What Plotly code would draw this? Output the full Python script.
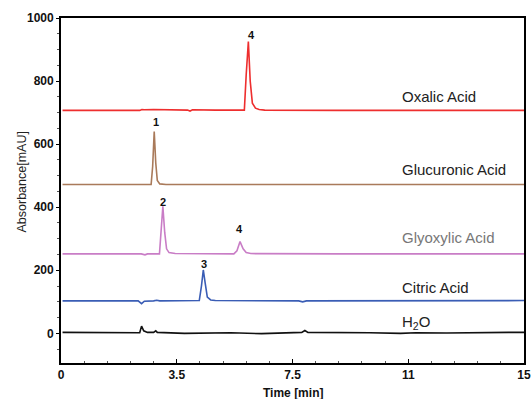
import plotly.graph_objects as go

# ---- data (time in min, absorbance in mAU) ----
oxalic_t = [0.05, 2.55, 2.62, 2.7, 3.0, 3.5, 4.1, 4.18, 4.26, 5.0, 5.6, 5.94, 6.0, 6.07, 6.13, 6.2, 6.3, 6.42, 6.6, 7.5, 9.0, 11.0, 13.0, 15.0]
oxalic_v = [707, 707, 710, 709, 710, 709, 708, 705, 709, 708, 707, 708, 820, 925, 800, 730, 714, 710, 708, 707, 707, 707, 707, 707]

glucuronic_t = [0.05, 2.0, 2.92, 2.97, 3.02, 3.07, 3.12, 3.2, 3.4, 6.0, 9.0, 12.0, 15.0]
glucuronic_v = [472, 472, 472, 530, 640, 540, 485, 474, 472, 472, 472, 472, 472]

glyoxylic_t = [0.05, 2.6, 2.72, 2.8, 3.19, 3.25, 3.30, 3.36, 3.42, 3.5, 3.7, 5.6, 5.7, 5.8, 5.9, 6.0, 6.15, 9.0, 12.0, 15.0]
glyoxylic_v = [252, 252, 249, 252, 252, 320, 403, 320, 268, 256, 253, 252, 262, 291, 268, 256, 253, 252, 252, 252]

citric_t = [0.05, 2.5, 2.61, 2.7, 3.0, 3.1, 3.2, 4.48, 4.55, 4.61, 4.67, 4.74, 4.85, 5.0, 7.7, 7.83, 7.95, 10.0, 13.0, 15.0]
citric_v = [103, 103, 94, 102, 103, 105, 103, 104, 150, 201, 160, 115, 106, 104, 103, 100, 103, 103, 103, 104]

water_t = [0.05, 2.2, 2.45, 2.55, 2.61, 2.68, 2.8, 3.0, 3.07, 3.12, 4.0, 4.5, 5.5, 6.5, 7.0, 7.8, 7.9, 8.0, 10.0, 11.0, 11.5, 12.5, 14.5, 15.0]
water_v = [3, 3, 1, 2, 23, 8, 3, 3, 8, 3, 0, 1, 2, -1, 1, 3, 9, 3, 2, 0, 2, 1, 3, 3]

series_names = ["Oxalic Acid", "Glucuronic Acid", "Glyoxylic Acid", "Citric Acid", "H<sub>2</sub>O"]
series_colors = ["#EE2E2E", "#A97A5A", "#C97DC6", "#3A5DB5", "#111111"]
label_colors = ["#222222", "#222222", "#777777", "#222222", "#222222"]
label_y = [752, 519, 303, 147, 33]

peak_labels = ["4", "1", "2", "4", "3"]
peak_label_t = [6.18, 3.07, 3.30, 5.78, 4.64]
peak_label_v = [945, 669, 415, 330, 219]

x_tickvals = [0, 3.75, 7.5, 11.25, 15]
x_ticktext = ["0", "3.5", "7.5", "11", "15"]
y_tickvals = [0, 200, 400, 600, 800, 1000]

traces = [(oxalic_t, oxalic_v), (glucuronic_t, glucuronic_v), (glyoxylic_t, glyoxylic_v),
          (citric_t, citric_v), (water_t, water_v)]

fig = go.Figure()
for (t, v), c in zip(traces, series_colors):
    fig.add_trace(go.Scatter(x=t, y=v, mode="lines", line=dict(color=c, width=1.6),
                             showlegend=False, hoverinfo="skip"))

FONT = "Liberation Sans, Arial, sans-serif"
for name, y, c in zip(series_names, label_y, label_colors):
    fig.add_annotation(x=10.98, y=y, text=name, showarrow=False, xanchor="left", yanchor="middle",
                       font=dict(family=FONT, size=15, color=c))
for lab, t, v in zip(peak_labels, peak_label_t, peak_label_v):
    fig.add_annotation(x=t, y=v, text="<b>" + lab + "</b>", showarrow=False,
                       font=dict(family=FONT, size=11, color="#111111"))

# axis titles as annotations
fig.add_annotation(xref="paper", yref="paper", x=-0.085, y=0.525, text="Absorbance[mAU]",
                   textangle=-90, showarrow=False, xanchor="center", yanchor="middle",
                   font=dict(family=FONT, size=12.5, color="#222222"))
fig.add_annotation(xref="paper", yref="paper", x=0.5, y=-0.087, text="<b>Time [min]</b>",
                   showarrow=False, xanchor="center", yanchor="middle",
                   font=dict(family=FONT, size=12, color="#111111"))

fig.update_layout(
    width=531, height=399,
    margin=dict(l=61, r=7, t=18, b=36),
    plot_bgcolor="white", paper_bgcolor="white",
    font=dict(family=FONT, color="#111111"),
)
fig.update_xaxes(
    range=[0, 15], tickvals=x_tickvals, ticktext=x_ticktext, automargin=False,
    showgrid=False, zeroline=False, showline=True, linecolor="black", linewidth=1.8, mirror=True,
    ticks="inside", ticklen=4, tickcolor="black",
    minor=dict(dtick=0.75, tick0=0, ticks="inside", ticklen=2.5, tickcolor="#555555"),
    tickfont=dict(family=FONT, size=12, color="#111111", weight="bold"),
)
fig.update_yaxes(
    range=[-94, 1000], tickvals=y_tickvals, automargin=False,
    showgrid=False, zeroline=False, showline=True, linecolor="black", linewidth=1.8, mirror=True,
    ticks="outside", ticklen=3, tickcolor="black",
    minor=dict(dtick=50, tick0=0, ticks="outside", ticklen=2, tickcolor="#555555"),
    tickfont=dict(family=FONT, size=12, color="#111111", weight="bold"),
)

fig.write_html("out.html", post_script="document.body.style.margin='0';",
               config={"displayModeBar": False})
